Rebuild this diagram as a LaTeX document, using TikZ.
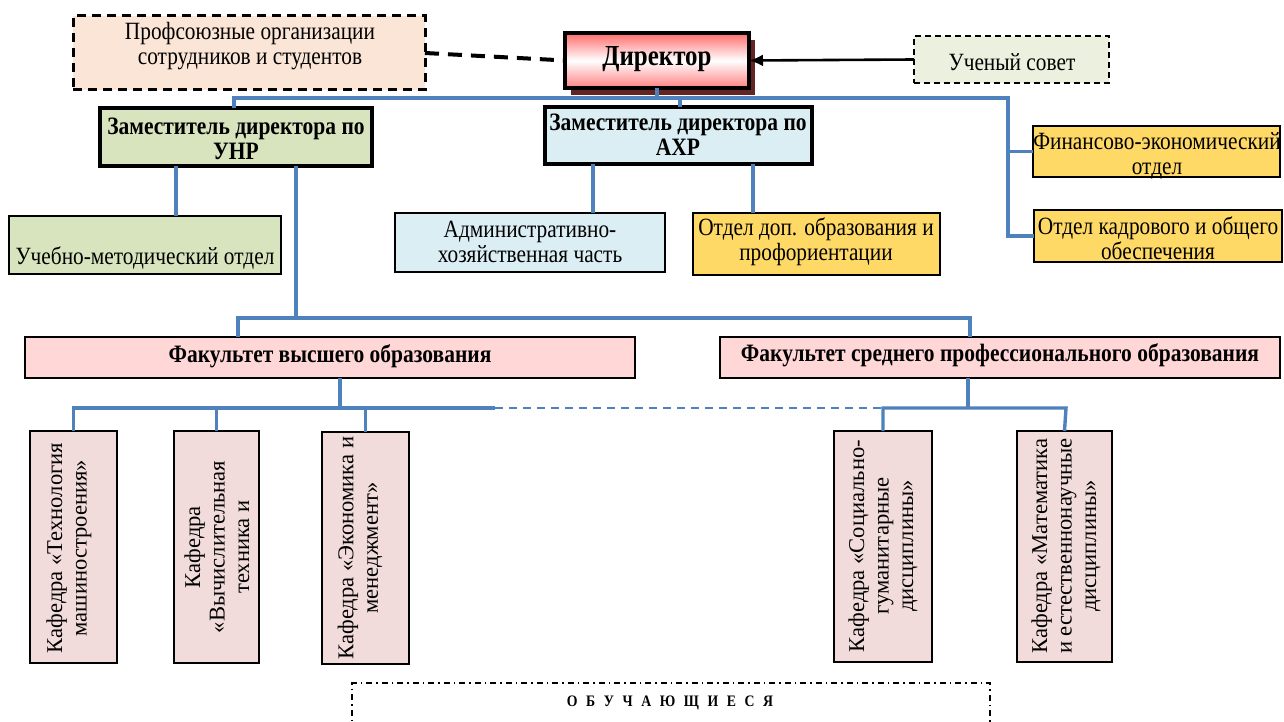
\documentclass[tikz,border=0pt]{standalone}
\usepackage{fontspec}
\setmainfont{Liberation Serif}[FakeStretch=0.86]
\newfontfamily\kfont{Liberation Serif}
\usetikzlibrary{arrows.meta,shadows}
\definecolor{cblue}{HTML}{4F81BD}
\definecolor{cpeach}{HTML}{FBE5D6}
\definecolor{csovet}{HTML}{EBF1DE}
\definecolor{cgreen}{HTML}{D7E4BD}
\definecolor{cltblue}{HTML}{DBEEF4}
\definecolor{cyellow}{HTML}{FFD966}
\definecolor{cfac}{HTML}{FFD7D7}
\definecolor{ckaf}{HTML}{F2DCDB}
\definecolor{cdirred}{HTML}{FF6B6B}
\definecolor{cshadow}{HTML}{632523}
\newcommand\mybox[6]{\node[#2, minimum width={(#5-#3)*1pt}, minimum height={(#6-#4)*1pt}] (#1) at ({(#3+#5)/2},{(#4+#6)/2}) {};}
\newcommand\lsp{\hspace{8.6pt}}
\begin{document}
\begin{tikzpicture}[x=1pt,y=-1pt,
  bx/.style={draw=black, line width=2pt, inner sep=0pt, outer sep=0pt},
  heavy/.style={bx, line width=4pt},
  txt/.style={font=\fontsize{24.8}{25}\selectfont, align=center, inner sep=0pt},
  btxt/.style={align=center, inner sep=0pt, font=\fontsize{25}{25}\selectfont\bfseries},
  ktxt/.style={align=center, inner sep=0pt, rotate=90, font=\kfont\fontsize{22.6}{24.5}\selectfont},
  conn/.style={draw=cblue, line width=3.4pt},
  ]
\useasboundingbox (0,0) rectangle (1284,722);
\clip (0,0) rectangle (1284,722);
\fill[white] (0,0) rectangle (1284,722);

% top level
\mybox{profs}{bx, fill=cpeach, line width=3pt, dash pattern=on 9pt off 6pt}{73}{16}{425}{90}
\node[txt] (profsT) at (250,46) {Профсоюзные организации\\сотрудников и студентов};
\mybox{dir}{heavy, top color=cdirred, bottom color=cdirred!85, middle color=white, drop shadow={shadow xshift=6pt, shadow yshift=-7pt, fill=cshadow, opacity=1}}{565}{33}{749}{88}
\node[btxt, font=\fontsize{29}{30}\selectfont\bfseries] (dirT) at (657,59) {Директор};
\mybox{sovet}{bx, fill=csovet, line width=2.2pt, dash pattern=on 6pt off 4pt}{914}{36}{1109}{83}
\node[txt] (sovetT) at (1012,62) {Ученый совет};

\draw[line width=4pt, dash pattern=on 14pt off 9pt] (profs.east) -- (dir.west);
\draw[line width=2.6pt, -{Latex[length=14pt,width=12pt]}] (sovet.west) -- (dir.east);

% deputies
\mybox{unr}{heavy, fill=cgreen}{100}{108}{372}{166}
\node[btxt] (unrT) at (236,139) {Заместитель директора по\\УНР};
\mybox{axr}{heavy, fill=cltblue}{545}{107}{812}{164}
\node[btxt] (axrT) at (678,135) {Заместитель директора по\\АХР};

\mybox{uch}{bx, fill=cgreen}{9}{216}{281}{274}
\node[txt] (uchT) at (145,258) {Учебно-методический отдел};
\mybox{adm}{bx, fill=cltblue}{395}{213}{665}{272}
\node[txt] (admT) at (530,242) {Административно-\\хозяйственная часть};
\mybox{dop}{bx, fill=cyellow}{693}{213}{940}{275}
\node[txt] (dopT) at (816,242) {Отдел доп. образования и\\профориентации};
\mybox{fin}{bx, fill=cyellow}{1033}{126}{1280}{177}
\node[txt] (finT) at (1157,156) {Финансово-экономический\\отдел};
\draw[line width=2pt] (fin.south west) -- (fin.south east);
\mybox{kadr}{bx, fill=cyellow}{1034}{210}{1282}{262}
\node[txt] (kadrT) at (1158,238) {Отдел кадрового и общего\\обеспечения};

% faculties
\mybox{fach}{bx, fill=cfac}{25}{337}{635}{378}
\node[btxt] (fachT) at (330,356) {Факультет высшего образования};
\mybox{facs}{bx, fill=cfac}{720}{337}{1280}{378}
\node[btxt] (facsT) at (1000,355) {Факультет среднего профессионального образования};

% departments
\mybox{k1}{bx, fill=ckaf}{30}{431}{117}{663}
\node[ktxt] (k1T) at (69,548) {Кафедра «Технология\\машиностроения»};
\mybox{k2}{bx, fill=ckaf}{174}{431}{259}{663}
\node[ktxt] (k2T) at (217,547) {Кафедра\\«Вычислительная\\техника и};
\mybox{k3}{bx, fill=ckaf}{322}{432}{409}{664}
\node[ktxt] (k3T) at (360,548) {Кафедра «Экономика и\\менеджмент»};
\mybox{k4}{bx, fill=ckaf}{834}{431}{932}{662}
\node[ktxt] (k4T) at (883,546) {Кафедра «Социально-\\гуманитарные\\дисциплины»};
\mybox{k5}{bx, fill=ckaf}{1017}{431}{1112}{662}
\node[ktxt] (k5T) at (1066,546) {Кафедра «Математика\\и естественнонаучные\\дисциплины»};

% students
\mybox{obu}{bx, line width=1.8pt, dash pattern=on 6pt off 4pt on 1.5pt off 4pt}{352}{683}{990}{760}
\node[btxt, font=\fontsize{16}{17}\selectfont\bfseries] (obuT) at (670,703) {О\lsp Б\lsp У\lsp Ч\lsp А\lsp Ю\lsp Щ\lsp И\lsp Е\lsp С\lsp Я};

% connectors
\coordinate (b1L) at (234,98);
\coordinate (b1R) at (1008,98);
\coordinate (xaxr) at (680,0);
\draw[conn] (dir.south) -- (dir.south |- b1L);
\draw[conn] (unr.north -| b1L) |- (b1R) |- (kadr.west);
\draw[conn] (fin.west) -- (fin.west -| b1R);
\draw[conn] (axr.north -| xaxr) -- (xaxr |- b1L);

\coordinate (xum) at (176,0);
\draw[conn] (unr.south -| xum) -- (uch.north -| xum);
\coordinate (x296) at (296,318);
\coordinate (b2L) at (238,318);
\coordinate (b2R) at (970,318);
\draw[conn] (unr.south -| x296) -- (x296);
\draw[conn] (fach.north -| b2L) |- (b2R) -- (facs.north -| b2R);

\coordinate (x593) at (593,0);
\coordinate (x753) at (753,0);
\draw[conn] (axr.south -| x593) -- (adm.north -| x593);
\draw[conn] (axr.south -| x753) -- (dop.north -| x753);

\coordinate (x340) at (340,408);
\coordinate (b3a) at (495,408);
\coordinate (b3b) at (884,408);
\coordinate (b3c) at (1066,408);
\coordinate (x968) at (968,408);
\draw[conn] (fach.south -| x340) -- (x340);
\draw[conn] (k1.north) |- (b3a);
\draw[conn] (k2.north) -- (k2.north |- b3a);
\draw[conn] (k3.north) -- (k3.north |- b3a);
\draw[conn, line width=2.8pt, dash pattern=on 8pt off 6pt] (b3a) -- (b3b);
\draw[conn] (k4.north) |- (b3c) -- (k5.north);
\draw[conn] (facs.south -| x968) -- (x968);
\end{tikzpicture}
\end{document}
